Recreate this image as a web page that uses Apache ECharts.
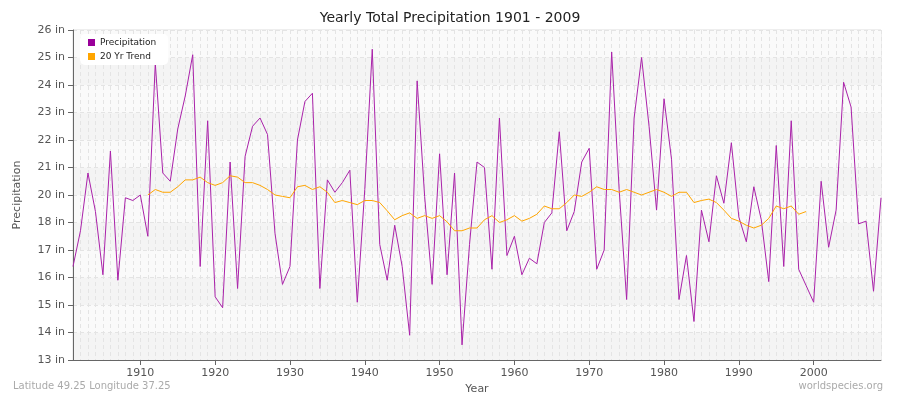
<!DOCTYPE html>
<html style="height: 100%">
<head>
    <meta charset="UTF-8">
    <title>Yearly Total Precipitation</title>
    <script src="https://cdn.jsdelivr.net/npm/echarts@6/dist/echarts.min.js"></script>
</head>
<body style="height: 100%; margin: 0; background: #fff">
<div id="container" style="width: 900px; height: 400px"></div>
<script type="text/javascript">
// tick labels on the y axis (the source skips 19 in)
var yTicks = [13, 14, 15, 16, 17, 18, 20, 21, 22, 23, 24, 25, 26];

var years = [];
for (var y = 1901; y <= 2009; y++) years.push(String(y));

var precipitation = [
    16.4, 17.7, 20.8, 18.8, 16.1, 21.6, 15.9, 19.8, 19.6, 20.0,
    17.5, 24.8, 20.8, 20.5, 22.4, 23.6, 25.1, 16.4, 22.7, 15.3,
    14.9, 21.2, 15.6, 21.4, 22.5, 22.8, 22.2, 17.6, 15.75, 16.4,
    22.0, 23.4, 23.7, 15.6, 20.55, 20.1, 20.45, 20.9, 15.1, 20.2,
    25.3, 17.2, 15.9, 17.9, 16.4, 13.9, 24.15, 19.9, 15.75, 21.5,
    16.1, 20.8, 13.55, 17.2, 21.2, 21.0, 16.3, 22.8, 16.8, 17.5,
    16.1, 16.7, 16.5, 18.0, 18.7, 22.3, 17.7, 18.8, 21.2, 21.7,
    16.3, 17.0, 25.2, 20.2, 15.2, 22.8, 25.0, 22.5, 18.9, 23.5,
    21.3, 15.2, 16.8, 14.4, 18.9, 17.3, 20.7, 19.4, 21.9, 18.4,
    17.3, 20.3, 18.2, 15.85, 21.8, 16.4, 22.7, 16.3, 15.7, 15.1,
    20.5, 17.1, 18.9, 24.1, 23.2, 17.95, 18.1, 15.5, 19.8
];

var trend = [
    null, null, null, null, null, null, null, null, null, null,
    20.0, 20.2, 20.1, 20.1, 20.3, 20.55, 20.55, 20.65, 20.45, 20.35,
    20.45, 20.7, 20.65, 20.45, 20.45, 20.35, 20.2, 20.0, 19.9, 19.8,
    20.3, 20.35, 20.2, 20.3, 20.1, 19.45, 19.6, 19.45, 19.3, 19.6,
    19.6, 19.45, 18.85, 18.2, 18.5, 18.7, 18.3, 18.5, 18.3, 18.5,
    18.05, 17.7, 17.7, 17.8, 17.8, 18.2, 18.5, 18.0, 18.2, 18.5,
    18.1, 18.3, 18.6, 19.2, 19.0, 19.0, 19.45, 20.0, 19.9, 20.1,
    20.3, 20.2, 20.2, 20.1, 20.2, 20.1, 20.0, 20.1, 20.2, 20.1,
    19.9, 20.1, 20.1, 19.45, 19.6, 19.7, 19.45, 18.9, 18.3, 18.1,
    17.9, 17.8, 17.9, 18.3, 19.2, 19.0, 19.2, 18.6, 18.8, null,
    null, null, null, null, null, null, null, null, null
];

// map inches onto the tick index scale used by the axis
function toPos(v) {
    if (v == null) return null;
    for (var i = 0; i < yTicks.length - 1; i++) {
        if (v <= yTicks[i + 1]) {
            return i + (v - yTicks[i]) / (yTicks[i + 1] - yTicks[i]);
        }
    }
    return yTicks.length - 1;
}

var myChart = echarts.init(document.getElementById('container'));
var labelColor = '#555';

var option = {
    animation: false,
    textStyle: { fontFamily: 'DejaVu Sans' },
    title: [
        { text: 'Yearly Total Precipitation 1901 - 2009', left: 'center', top: 6,
          textStyle: { fontSize: 14, fontWeight: 'normal', color: '#222' } },
        { text: 'Latitude 49.25 Longitude 37.25', left: 8, bottom: 4,
          textStyle: { fontSize: 10, fontWeight: 'normal', color: '#aaa' } },
        { text: 'worldspecies.org', right: 12, bottom: 4,
          textStyle: { fontSize: 10, fontWeight: 'normal', color: '#aaa' } }
    ],
    legend: {
        left: 80, top: 34, orient: 'vertical', itemWidth: 7, itemHeight: 7, itemGap: 5,
        icon: 'rect', backgroundColor: '#fff', borderRadius: 5, padding: [4, 12, 4, 8],
        textStyle: { fontSize: 9, color: '#222' },
        data: ['Precipitation', '20 Yr Trend']
    },
    grid: { left: 73, right: 19, top: 30, bottom: 40, show: true, borderColor: '#ddd', backgroundColor: '#fafafa' },
    xAxis: {
        type: 'category', data: years, boundaryGap: false,
        name: 'Year', nameLocation: 'middle', nameGap: 20,
        nameTextStyle: { color: labelColor, fontSize: 11 },
        axisLine: { lineStyle: { color: '#666' } },
        axisTick: { interval: function (i, v) { return +v % 10 === 0; }, length: 5, lineStyle: { color: '#666' } },
        axisLabel: { interval: function (i, v) { return +v % 10 === 0; }, color: labelColor, fontSize: 11 },
        splitLine: { show: true, interval: 0, lineStyle: { color: '#e4e4e4', type: [4, 3] } }
    },
    yAxis: {
        type: 'value', min: 0, max: yTicks.length - 1, interval: 1,
        name: 'Precipitation', nameLocation: 'middle', nameGap: 50,
        nameTextStyle: { color: labelColor, fontSize: 11 },
        axisLine: { show: true, lineStyle: { color: '#666' } },
        axisTick: { show: true, length: 5, lineStyle: { color: '#666' } },
        axisLabel: { color: labelColor, fontSize: 11, formatter: function (v) { return yTicks[v] + ' in'; } },
        splitLine: { lineStyle: { color: '#e4e4e4', type: [4, 3] } },
        splitArea: { show: true, areaStyle: { color: ['#f4f4f4', '#fafafa'] } }
    },
    series: [
        { name: 'Precipitation', type: 'line', data: precipitation.map(toPos), symbol: 'none',
          itemStyle: { color: '#990099' }, lineStyle: { color: '#aa22aa', width: 1 } },
        { name: '20 Yr Trend', type: 'line', data: trend.map(toPos), symbol: 'none',
          itemStyle: { color: '#ffa500' }, lineStyle: { color: '#ffa500', width: 1 } }
    ]
};
myChart.setOption(option);
</script>
</body>
</html>
